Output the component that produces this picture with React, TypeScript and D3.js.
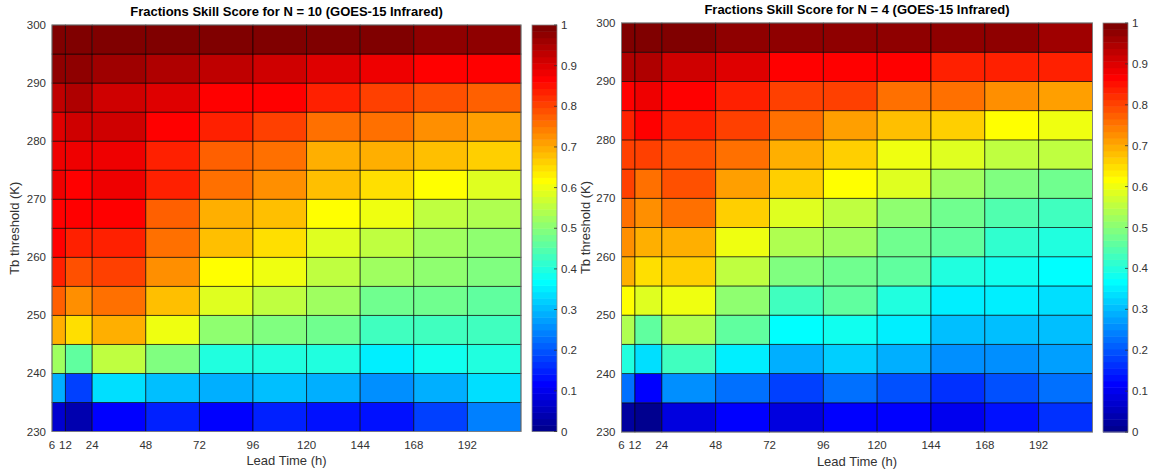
import * as d3 from "d3";

// lead time cell edges (h) and ticks
const leadTimeEdges = [6, 12, 24, 48, 72, 96, 120, 144, 168, 192, 216];
const leadTimeTicks = [6, 12, 24, 48, 72, 96, 120, 144, 168, 192];
// brightness temperature thresholds (K)
const thresholdEdges = [230, 235, 240, 245, 250, 255, 260, 265, 270, 275, 280, 285, 290, 295, 300];
const thresholdTicks = [230, 240, 250, 260, 270, 280, 290, 300];
const colorTicks = [0, 0.1, 0.2, 0.3, 0.4, 0.5, 0.6, 0.7, 0.8, 0.9, 1];

// FSS, rows from 230 K upward, columns by lead time
const fssN10 = [
  [0.07, 0.04, 0.115, 0.145, 0.12, 0.145, 0.14, 0.13, 0.18, 0.24],
  [0.29, 0.18, 0.335, 0.305, 0.29, 0.305, 0.29, 0.26, 0.29, 0.335],
  [0.525, 0.455, 0.56, 0.495, 0.4, 0.4, 0.4, 0.35, 0.375, 0.4],
  [0.69, 0.65, 0.69, 0.605, 0.51, 0.495, 0.475, 0.425, 0.425, 0.425],
  [0.78, 0.73, 0.76, 0.675, 0.58, 0.56, 0.525, 0.475, 0.47, 0.455],
  [0.835, 0.785, 0.805, 0.725, 0.615, 0.605, 0.555, 0.525, 0.505, 0.495],
  [0.865, 0.835, 0.835, 0.755, 0.675, 0.65, 0.585, 0.555, 0.52, 0.51],
  [0.865, 0.865, 0.865, 0.78, 0.695, 0.675, 0.615, 0.605, 0.555, 0.54],
  [0.89, 0.865, 0.88, 0.835, 0.755, 0.725, 0.675, 0.65, 0.61, 0.585],
  [0.89, 0.88, 0.88, 0.835, 0.78, 0.755, 0.695, 0.695, 0.675, 0.66],
  [0.9, 0.92, 0.915, 0.865, 0.83, 0.805, 0.755, 0.755, 0.72, 0.705],
  [0.93, 0.945, 0.915, 0.9, 0.865, 0.865, 0.835, 0.805, 0.79, 0.78],
  [0.975, 0.975, 0.96, 0.945, 0.93, 0.915, 0.9, 0.88, 0.865, 0.865],
  [0.99, 0.99, 0.99, 0.99, 0.99, 0.99, 0.99, 0.99, 0.98, 0.98],
];

const fssN4 = [
  [0.025, 0.01, 0.085, 0.115, 0.085, 0.115, 0.115, 0.1, 0.13, 0.16],
  [0.225, 0.115, 0.26, 0.23, 0.185, 0.23, 0.2, 0.17, 0.2, 0.23],
  [0.4, 0.335, 0.425, 0.35, 0.29, 0.32, 0.29, 0.26, 0.26, 0.275],
  [0.54, 0.455, 0.54, 0.455, 0.365, 0.38, 0.35, 0.305, 0.305, 0.305],
  [0.615, 0.58, 0.605, 0.51, 0.425, 0.455, 0.4, 0.35, 0.345, 0.335],
  [0.69, 0.65, 0.66, 0.56, 0.495, 0.475, 0.455, 0.4, 0.38, 0.365],
  [0.73, 0.69, 0.7, 0.605, 0.54, 0.525, 0.475, 0.455, 0.415, 0.4],
  [0.76, 0.73, 0.755, 0.66, 0.585, 0.56, 0.51, 0.475, 0.445, 0.43],
  [0.8, 0.76, 0.785, 0.715, 0.66, 0.615, 0.58, 0.525, 0.495, 0.475],
  [0.805, 0.805, 0.785, 0.755, 0.69, 0.66, 0.605, 0.585, 0.56, 0.56],
  [0.835, 0.865, 0.835, 0.805, 0.755, 0.715, 0.675, 0.66, 0.615, 0.605],
  [0.865, 0.89, 0.865, 0.835, 0.805, 0.805, 0.76, 0.755, 0.73, 0.715],
  [0.94, 0.94, 0.915, 0.9, 0.865, 0.865, 0.865, 0.83, 0.83, 0.83],
  [0.99, 0.99, 0.99, 0.975, 0.975, 0.975, 0.975, 0.975, 0.975, 0.96],
];

const font = "'Liberation Sans', Arial, Helvetica, sans-serif";
const axisColor = "#333";
const nColors = 64;

// matlab jet(64)
const clamp = (v) => Math.max(0, Math.min(1, v));
const jetColors = d3.range(1, nColors + 1).map((k) => {
  const x = k / nColors;
  const r = clamp(1.5 - Math.abs(4 * x - 3));
  const g = clamp(1.5 - Math.abs(4 * x - 2));
  const b = clamp(1.5 - Math.abs(4 * x - 1));
  return d3.rgb(r * 255, g * 255, b * 255).formatHex();
});
const colorScale = d3.scaleQuantize().domain([0, 1]).range(jetColors);

const Panel = ({ title, data, left, right, top, bottom, cbLeft, ylabelX }) => {
  const xScale = d3
    .scaleLinear()
    .domain([leadTimeEdges[0], leadTimeEdges[leadTimeEdges.length - 1]])
    .range([left, right]);
  const yScale = d3
    .scaleLinear()
    .domain([thresholdEdges[0], thresholdEdges[thresholdEdges.length - 1]])
    .range([bottom, top]);
  const cScale = d3.scaleLinear().domain([0, 1]).range([bottom, top]);
  const cbWidth = 25;
  const midX = (left + right) / 2;

  return (
    <g fontFamily={font}>
      {data.map((row, i) =>
        row.map((v, j) => (
          <rect
            key={`${i}-${j}`}
            x={xScale(leadTimeEdges[j])}
            y={yScale(thresholdEdges[i + 1])}
            width={xScale(leadTimeEdges[j + 1]) - xScale(leadTimeEdges[j])}
            height={yScale(thresholdEdges[i]) - yScale(thresholdEdges[i + 1])}
            fill={colorScale(v)}
            stroke="#000"
            strokeOpacity={0.65}
            strokeWidth={0.9}
          />
        ))
      )}
      <rect
        x={left}
        y={top}
        width={right - left}
        height={bottom - top}
        fill="none"
        stroke="#8c8c8c"
        strokeWidth={0.8}
      />
      {thresholdTicks.map((t) => (
        <text
          key={t}
          x={left - 6}
          y={yScale(t)}
          textAnchor="end"
          dominantBaseline="central"
          fontSize={11.5}
          fill={axisColor}
        >
          {t}
        </text>
      ))}
      {leadTimeTicks.map((t) => (
        <text
          key={t}
          x={xScale(t)}
          y={bottom + 13}
          textAnchor="middle"
          dominantBaseline="central"
          fontSize={11.5}
          fill={axisColor}
        >
          {t}
        </text>
      ))}
      <text
        x={midX}
        y={bottom + 29}
        textAnchor="middle"
        dominantBaseline="central"
        fontSize={13}
        fill={axisColor}
      >
        Lead Time (h)
      </text>
      <text
        transform={`translate(${ylabelX},${(top + bottom) / 2}) rotate(-90)`}
        textAnchor="middle"
        dominantBaseline="central"
        fontSize={13}
        fill={axisColor}
      >
        Tb threshold (K)
      </text>
      <text
        x={midX}
        y={top - 9}
        textAnchor="middle"
        fontSize={13}
        fontWeight="bold"
        fill="#000"
      >
        {title}
      </text>
      {jetColors.map((c, k) => (
        <rect
          key={k}
          x={cbLeft}
          y={cScale((k + 1) / nColors)}
          width={cbWidth}
          height={cScale(k / nColors) - cScale((k + 1) / nColors) + 0.5}
          fill={c}
        />
      ))}
      <rect
        x={cbLeft}
        y={top}
        width={cbWidth}
        height={bottom - top}
        fill="none"
        stroke="#8c8c8c"
        strokeWidth={0.8}
      />
      {colorTicks.map((t) => (
        <g key={t}>
          <line
            x1={cbLeft + cbWidth - 3}
            x2={cbLeft + cbWidth}
            y1={cScale(t)}
            y2={cScale(t)}
            stroke={axisColor}
            strokeWidth={0.8}
          />
          <text
            x={cbLeft + cbWidth + 4}
            y={cScale(t)}
            dominantBaseline="central"
            fontSize={11.5}
            fill={axisColor}
          >
            {d3.format("~g")(t)}
          </text>
        </g>
      ))}
    </g>
  );
};

export default function App() {
  return (
    <svg
      width={1152}
      height={470}
      style={{ position: "absolute", left: 0, top: 0, background: "#fff" }}
    >
      <rect width={1152} height={470} fill="#fff" />
      <Panel
        title="Fractions Skill Score for N = 10 (GOES-15 Infrared)"
        data={fssN10}
        left={52}
        right={521}
        top={25}
        bottom={431.5}
        cbLeft={532}
        ylabelX={14}
      />
      <Panel
        title="Fractions Skill Score for N = 4 (GOES-15 Infrared)"
        data={fssN4}
        left={621.5}
        right={1092.5}
        top={23}
        bottom={432}
        cbLeft={1103}
        ylabelX={585}
      />
    </svg>
  );
}
